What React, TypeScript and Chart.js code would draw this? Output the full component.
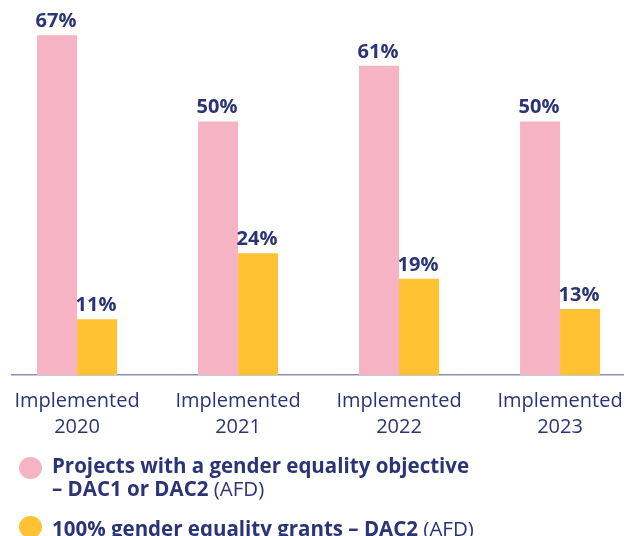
import React, { useEffect, useRef } from "react";
import { Chart, registerables } from "chart.js";

Chart.register(...registerables);

const categories = ["Implemented 2020", "Implemented 2021", "Implemented 2022", "Implemented 2023"];
const tickLines = [["Implemented", "2020"], ["Implemented", "2021"], ["Implemented", "2022"], ["Implemented", "2023"]];
const projectsValues = [67, 50, 61, 50];
const grantsValues = [11, 24, 19, 13];
const seriesNames = ["Projects with a gender equality objective – DAC1 or DAC2 (AFD)", "100% gender equality grants – DAC2 (AFD)"];

const PINK = "#f5b3c4";
const YELLOW = "#fec232";
const NAVY = "#2b3476";
const AXIS = "#8b90b8";
const FONT = "'Open Sans', sans-serif";

const labelPlugin = {
  id: "valueLabels",
  afterDatasetsDraw(chart: any) {
    const ctx = chart.ctx;
    ctx.save();
    ctx.font = `700 20px ${FONT}`;
    ctx.fillStyle = NAVY;
    ctx.textAlign = "center";
    ctx.textBaseline = "alphabetic";
    chart.data.datasets.forEach((ds: any, di: number) => {
      const meta = chart.getDatasetMeta(di);
      meta.data.forEach((bar: any, i: number) => {
        const v = ds.data[i].y;
        ctx.fillText(`${v}%`, bar.x - 1, bar.y - 8);
      });
    });
    ctx.restore();
  },
};

export default function App() {
  const ref = useRef<HTMLCanvasElement | null>(null);
  useEffect(() => {
    if (!ref.current) return;
    const chart = new Chart(ref.current, {
      type: "bar",
      data: {
        datasets: [
          {
            label: seriesNames[0],
            data: projectsValues.map((y, x) => ({ x, y })),
            backgroundColor: PINK,
            barPercentage: 1,
            categoryPercentage: 80 / 161,
          },
          {
            label: seriesNames[1],
            data: grantsValues.map((y, x) => ({ x, y })),
            backgroundColor: YELLOW,
            barPercentage: 1,
            categoryPercentage: 80 / 161,
          },
        ],
      },
      options: {
        animation: false,
        responsive: false,
        maintainAspectRatio: false,
        layout: { padding: { left: 12, right: 10, top: 20, bottom: 101 } },
        plugins: { legend: { display: false }, tooltip: { enabled: false } },
        scales: {
          x: {
            type: "linear",
            offset: false,
            min: -0.404,
            max: 3.391,
            grid: { display: false, drawTicks: true, tickLength: 13, offset: false },
            border: { display: true, color: AXIS, width: 1.5 },
            afterBuildTicks: (scale: any) => {
              scale.ticks = categories.map((_, i) => ({ value: i }));
            },
            afterFit: (scale: any) => {
              scale.height = 60;
            },
            ticks: {
              padding: 0,
              color: NAVY,
              font: { family: FONT, size: 20, weight: 400, lineHeight: 26 / 20 },
              maxRotation: 0,
              autoSkip: false,
              callback: (value: any) => tickLines[value] ?? "",
            },
          },
          y: {
            display: false,
            min: 0,
            max: 70,
          },
        },
      },
      plugins: [labelPlugin],
    });
    return () => chart.destroy();
  }, []);

  const textStyle: React.CSSProperties = {
    position: "absolute",
    left: 52,
    color: NAVY,
    fontFamily: FONT,
    fontSize: 20.5,
    lineHeight: "23px",
    margin: 0,
    whiteSpace: "nowrap",
  };
  const dot = (color: string, top: number): React.CSSProperties => ({
    position: "absolute",
    left: 19,
    top,
    width: 23,
    height: 22,
    borderRadius: "50%",
    background: color,
  });

  return (
    <div style={{ position: "absolute", left: 0, top: 0, width: 633, height: 536, overflow: "hidden", background: "#fff" }}>
      <canvas ref={ref} width={633} height={536} style={{ position: "absolute", left: 0, top: 0 }} />
      <div style={dot(PINK, 457)} />
      <div style={{ ...textStyle, top: 454 }}>
        <b>Projects with a gender equality objective</b>
        <br />
        <b>– DAC1 or DAC2</b> (AFD)
      </div>
      <div style={dot(YELLOW, 516)} />
      <div style={{ ...textStyle, top: 517 }}>
        <b>100% gender equality grants – DAC2</b> (AFD)
      </div>
    </div>
  );
}
